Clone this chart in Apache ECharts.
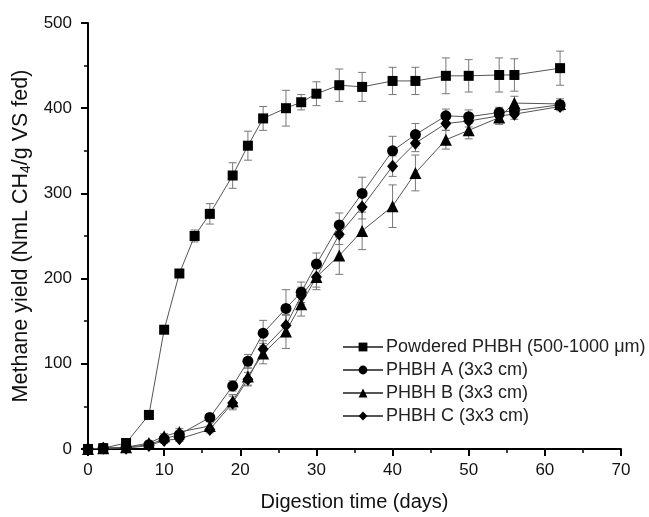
<!DOCTYPE html>
<html>
<head>
<meta charset="utf-8">
<script src="https://cdn.jsdelivr.net/npm/echarts@6/dist/echarts.min.js"></script>
<style>
  html, body { margin: 0; padding: 0; background: #fff; }
  #chart { width: 649px; height: 517px; }
</style>
</head>
<body>
<div id="chart"></div>
<script>
// digestion days and methane yields (NmL CH4/g VS fed)
const powderDays = [0, 2, 5, 8, 10, 12, 14, 16, 19, 21, 23, 26, 28, 30, 33, 36, 40, 43, 47, 50, 54, 56, 62]
const powderYield = [0, 1, 7, 40, 140, 206, 250, 276, 321, 356, 388, 400, 407, 417, 427, 425, 432, 432, 438, 438, 439, 439, 447]
const powderErr = [0, 1, 2, 5, 4, 4, 7, 12, 15, 17, 14, 21, 9, 14, 19, 17, 16, 16, 21, 19, 20, 19, 20]

const sheetDays = [0, 2, 5, 8, 10, 12, 16, 19, 21, 23, 26, 28, 30, 33, 36, 40, 43, 47, 50, 54, 56, 62]
const yieldA = [0, 1, 2, 5, 12, 17, 37, 74, 103, 136, 165, 184, 217, 263, 300, 350, 369, 391, 390, 395, 397, 404]
const errA = [0, 1, 1, 2, 3, 3, 4, 6, 8, 15, 22, 12, 13, 14, 19, 17, 13, 8, 8, 6, 6, 5]
const yieldB = [0, 1, 2, 7, 15, 20, 27, 56, 85, 112, 138, 170, 202, 227, 256, 285, 324, 363, 374, 389, 406, 405]
const errB = [0, 1, 1, 2, 3, 4, 5, 8, 10, 12, 20, 14, 15, 22, 22, 25, 21, 11, 10, 8, 8, 6]
const yieldC = [0, 1, 1, 4, 10, 12, 23, 54, 82, 117, 145, 180, 202, 252, 284, 332, 359, 382, 385, 391, 393, 402]
const errC = [0, 1, 1, 2, 3, 3, 4, 8, 8, 10, 12, 10, 12, 12, 14, 12, 10, 8, 7, 6, 6, 5]

const names = [
  'Powdered PHBH (500-1000 \u03bcm)',
  'PHBH A (3x3 cm)',
  'PHBH B (3x3 cm)',
  'PHBH C (3x3 cm)'
]

const font = 'Liberation Sans, Arial, sans-serif'

function pairs(days, vals) {
  return days.map((d, i) => [d, vals[i]])
}

function errSeries(days, vals, errs) {
  return {
    type: 'custom',
    z: 1,
    silent: true,
    data: days.map((d, i) => [d, vals[i] - errs[i], vals[i] + errs[i]]),
    renderItem: (params, api) => {
      const lo = api.coord([api.value(0), api.value(1)])
      const hi = api.coord([api.value(0), api.value(2)])
      const w = 4
      const style = { stroke: '#777', lineWidth: 1 }
      return {
        type: 'group',
        children: [
          { type: 'line', shape: { x1: lo[0], y1: lo[1], x2: hi[0], y2: hi[1] }, style },
          { type: 'line', shape: { x1: lo[0] - w, y1: lo[1], x2: lo[0] + w, y2: lo[1] }, style },
          { type: 'line', shape: { x1: hi[0] - w, y1: hi[1], x2: hi[0] + w, y2: hi[1] }, style }
        ]
      }
    }
  }
}

function lineSeries(name, days, vals, symbol, size) {
  return {
    name: name,
    type: 'line',
    z: 3,
    data: pairs(days, vals),
    symbol: symbol,
    symbolSize: size,
    showAllSymbol: true,
    itemStyle: { color: '#000', borderWidth: 0 },
    lineStyle: { color: '#555', width: 1 }
  }
}

const chart = echarts.init(document.getElementById('chart'))
chart.setOption({
  animation: false,
  grid: { left: 88, right: 28, top: 23, bottom: 66 },
  legend: {
    data: names,
    orient: 'vertical',
    left: 337,
    top: 333,
    itemWidth: 40,
    itemHeight: 11,
    itemGap: 5,
    textStyle: { fontFamily: font, fontSize: 18, lineHeight: 18, color: '#222', padding: [0, 0, 0, -2] }
  },
  xAxis: {
    type: 'value',
    min: 0,
    max: 70,
    interval: 10,
    name: 'Digestion time (days)',
    nameLocation: 'middle',
    nameGap: 43,
    nameTextStyle: { fontFamily: font, fontSize: 20, color: '#111' },
    splitLine: { show: false },
    axisLine: { lineStyle: { color: '#000', width: 2 } },
    axisTick: { inside: false, length: 7, lineStyle: { color: '#000', width: 2 } },
    minorTick: { show: true, splitNumber: 2, length: 4, lineStyle: { color: '#000', width: 1.5 } },
    axisLabel: { fontFamily: font, fontSize: 17, color: '#111', margin: 13 }
  },
  yAxis: {
    type: 'value',
    min: 0,
    max: 500,
    interval: 100,
    name: '{a|Methane yield (NmL CH}{s|4}{a|/g VS fed)}',
    nameLocation: 'middle',
    nameGap: 55,
    nameTextStyle: {
      rich: {
        a: { fontFamily: font, fontSize: 21.5, color: '#111' },
        s: { fontFamily: font, fontSize: 14, color: '#111', verticalAlign: 'bottom', padding: [9, 0, 0, 0] }
      }
    },
    splitLine: { show: false },
    axisLine: { show: true, lineStyle: { color: '#000', width: 2 } },
    axisTick: { show: true, inside: false, length: 7, lineStyle: { color: '#000', width: 2 } },
    minorTick: { show: true, splitNumber: 2, length: 4, lineStyle: { color: '#000', width: 1.5 } },
    axisLabel: { fontFamily: font, fontSize: 17, color: '#111', margin: 16 }
  },
  series: [
    errSeries(powderDays, powderYield, powderErr),
    errSeries(sheetDays, yieldA, errA),
    errSeries(sheetDays, yieldB, errB),
    errSeries(sheetDays, yieldC, errC),
    lineSeries(names[0], powderDays, powderYield, 'rect', 10),
    lineSeries(names[1], sheetDays, yieldA, 'circle', 11),
    lineSeries(names[2], sheetDays, yieldB, 'triangle', 12),
    lineSeries(names[3], sheetDays, yieldC, 'diamond', [11, 13])
  ]
})
</script>
</body>
</html>
